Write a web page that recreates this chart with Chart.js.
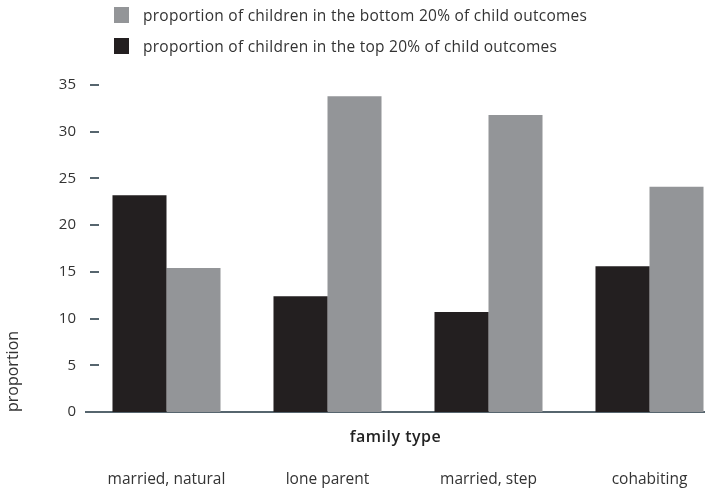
<!DOCTYPE html>
<html>
<head>
<meta charset="utf-8">
<script src="https://cdn.jsdelivr.net/npm/chart.js@4"></script>
<style>
  html, body { margin: 0; padding: 0; width: 705px; height: 488px; overflow: hidden; background: #fff; }
  #wrap { position: relative; width: 730px; height: 488px; }
  #legend { position: absolute; left: 114px; top: -1px; font-family: "Open Sans", sans-serif; font-size: 15.5px; letter-spacing: 0.25px; color: #333; }
  .item { display: flex; align-items: center; height: 31px; }
  .item .sw { width: 15px; height: 16px; margin-right: 14px; }
</style>
</head>
<body>
<div id="wrap">
  <canvas id="c" width="730" height="488"></canvas>
  <div id="legend"></div>
</div>
<script>
const categories = ['married, natural', 'lone parent', 'married, step', 'cohabiting'];
const topShare = [23.2, 12.4, 10.7, 15.6];
const bottomShare = [15.4, 33.8, 31.8, 24.1];
const yTicks = [0, 5, 10, 15, 20, 25, 30, 35];
const seriesNames = ['proportion of children in the top 20% of child outcomes', 'proportion of children in the bottom 20% of child outcomes'];
const colors = ['#231f20', '#939598'];

// HTML legend (bottom-20% first, as in reference)
const legend = document.getElementById('legend');
[1, 0].forEach(i => {
  const d = document.createElement('div');
  d.className = 'item';
  d.innerHTML = '<span class="sw" style="background:' + colors[i] + '"></span><span>' + seriesNames[i] + '</span>';
  legend.appendChild(d);
});

const axisColor = '#56656e';
const fontFam = '"Open Sans", sans-serif';

const extras = {
  id: 'extras',
  afterDraw(chart) {
    const ctx = chart.ctx, y = chart.scales.y, a = chart.chartArea;
    ctx.save();
    ctx.strokeStyle = axisColor;
    ctx.lineWidth = 2;
    y.ticks.forEach(t => {
      if (t.value === 0) return;
      const py = Math.round(y.getPixelForValue(t.value));
      ctx.beginPath();
      ctx.moveTo(a.left + 4, py);
      ctx.lineTo(a.left + 13, py);
      ctx.stroke();
    });
    ctx.fillStyle = '#222';
    ctx.font = '600 16px ' + fontFam;
    ctx.letterSpacing = '0.5px';
    ctx.textAlign = 'center';
    ctx.textBaseline = 'middle';
    ctx.fillText('family type', (a.left + 705) / 2, a.bottom + 25);
    ctx.restore();
  }
};

new Chart(document.getElementById('c'), {
  type: 'bar',
  data: {
    labels: categories,
    datasets: [
      { label: seriesNames[0], data: topShare, backgroundColor: colors[0] },
      { label: seriesNames[1], data: bottomShare, backgroundColor: colors[1] }
    ]
  },
  options: {
    responsive: false,
    animation: false,
    layout: { padding: { top: 85, left: 0, right: 0, bottom: 0 } },
    categoryPercentage: 0.671,
    barPercentage: 1,
    plugins: { legend: { display: false }, tooltip: { enabled: false } },
    scales: {
      x: {
        grid: { display: false, drawTicks: true, tickLength: 58 },
        border: { display: true, color: axisColor, width: 2 },
        ticks: { padding: 0, color: '#333', font: { family: fontFam, size: 15.5 } },
        afterFit(s) { s.height = 76; }
      },
      y: {
        min: 0, max: 35,
        afterBuildTicks(s) { s.ticks = yTicks.map(v => ({ value: v })); },
        grid: { display: false, drawTicks: false },
        border: { display: false },
        ticks: { padding: 10, color: '#333', font: { family: fontFam, size: 15 } },
        title: { display: true, text: 'proportion', align: 'start', color: '#333', font: { family: fontFam, size: 16 }, padding: { top: 4, bottom: 0 } },
        afterFit(s) { s.width = 86; }
      }
    }
  },
  plugins: [extras]
});
</script>
</body>
</html>
